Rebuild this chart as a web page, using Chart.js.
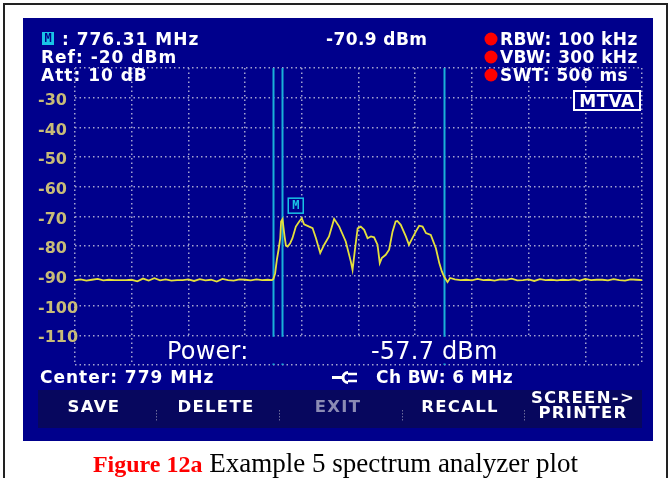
<!DOCTYPE html>
<html>
<head>
<meta charset="utf-8">
<script src="https://cdn.jsdelivr.net/npm/chart.js@4.4.1/dist/chart.umd.min.js"></script>
<style>
  html, body { margin: 0; padding: 0; background: #ffffff; }
  #wrap { position: relative; width: 671px; height: 478px; overflow: hidden; }
  canvas { position: absolute; left: 0; top: 0; }
  .t { position: absolute; white-space: nowrap; color: #ffffff; font-family: "DejaVu Sans", sans-serif;
       font-weight: bold; font-size: 17px; line-height: 17px; letter-spacing: 0.4px; }
  .wide { letter-spacing: 1px; }
  .big { font-weight: normal; font-size: 24px; line-height: 24px; letter-spacing: 0.2px; }
  .btn { text-align: center; font-size: 16.5px; line-height: 16px; letter-spacing: 1.3px; }
  .mk { position: absolute; background: #19c3e6; color: #00008c; font-family: "DejaVu Sans Mono", monospace;
        font-weight: bold; font-size: 12px; line-height: 13px; text-align: center; }
  #caption { position: absolute; left: 0; width: 671px; top: 449px; text-align: center;
             font-family: "Liberation Serif", "Times New Roman", serif; font-size: 27px; line-height: 28px; color: #000; }
  #caption b { color: #ff0000; font-size: 24px; }
</style>
</head>
<body>
<div id="wrap">
  <canvas id="c" width="671" height="478"></canvas>

  <div class="mk" style="left:42px;top:32px;width:12px;height:13px;">M</div>
  <div class="t wide" style="left:62px;top:31px;">: 776.31 MHz</div>
  <div class="t" style="left:326px;top:31px;">-70.9 dBm</div>
  <div class="t" style="left:500px;top:31px;">RBW: 100 kHz</div>
  <div class="t wide" style="left:41px;top:49px;">Ref: -20 dBm</div>
  <div class="t" style="left:500px;top:49px;">VBW: 300 kHz</div>
  <div class="t wide" style="left:41px;top:67px;">Att: 10 dB</div>
  <div class="t" style="left:500px;top:67px;">SWT: 500 ms</div>
  <div class="t" style="left:573px;top:91px;width:68px;text-align:center;line-height:20px;">MTVA</div>

  <div class="t big" style="left:167px;top:339px;">Power:</div>
  <div class="t big" style="left:371px;top:339px;">-57.7 dBm</div>

  <div class="t wide" style="left:40px;top:369px;">Center: 779 MHz</div>
  <div class="t" style="left:376px;top:369px;">Ch BW: 6 MHz</div>

  <div class="t btn" style="left:49px;top:399px;width:90px;">SAVE</div>
  <div class="t btn" style="left:166px;top:399px;width:100px;">DELETE</div>
  <div class="t btn" style="left:293px;top:399px;width:90px;color:#8c8cb4;">EXIT</div>
  <div class="t btn" style="left:410px;top:399px;width:100px;">RECALL</div>
  <div class="t btn" style="left:523px;top:390px;width:120px;line-height:15px;">SCREEN-&gt;<br>PRINTER</div>

  <div id="caption"><b>Figure 12a</b> Example 5 spectrum analyzer plot</div>
</div>

<script>
// Sweep: frequency (MHz) and trace level (dBm)
const traceFreq = [
  769.0, 769.2, 769.4, 769.6, 769.8, 770.0, 770.2, 770.4, 770.6, 770.8,
  771.0, 771.2, 771.4, 771.6, 771.8, 772.0, 772.2, 772.4, 772.6, 772.8,
  773.0, 773.2, 773.4, 773.6, 773.8, 774.0, 774.2, 774.4, 774.6, 774.8,
  775.0, 775.2, 775.4, 775.6, 775.8, 775.95,
  776.00, 776.06, 776.12, 776.18, 776.24, 776.27, 776.32, 776.39, 776.44, 776.50,
  776.59, 776.67, 776.79, 776.91, 777.00, 777.08, 777.26, 777.38, 777.50, 777.65,
  777.79, 777.96, 778.14, 778.32, 778.55, 778.73, 778.79, 778.88, 778.97, 779.08,
  779.20, 779.32, 779.44, 779.55, 779.67, 779.75, 779.82, 779.96, 780.08, 780.20,
  780.31, 780.37, 780.49, 780.67, 780.78, 780.90, 781.02, 781.14, 781.26, 781.38,
  781.55, 781.73, 781.85, 781.94, 782.02, 782.14, 782.23,
  782.4, 782.6, 782.8, 783.0, 783.2, 783.4, 783.6, 783.8, 784.0, 784.2,
  784.4, 784.6, 784.8, 785.0, 785.2, 785.4, 785.6, 785.8, 786.0, 786.2,
  786.4, 786.6, 786.8, 787.0, 787.2, 787.4, 787.6, 787.8, 788.0, 788.2,
  788.4, 788.6, 788.8, 789.0
];
const traceLevel = [
  -91.4, -91.2, -91.6, -91.3, -91.0, -91.5, -91.3, -91.4, -91.4, -91.4,
  -91.3, -91.8, -90.9, -91.6, -90.8, -91.5, -91.2, -91.6, -91.4, -91.4,
  -91.2, -91.7, -91.1, -91.5, -91.3, -91.9, -91.0, -91.4, -91.6, -91.2,
  -91.3, -91.5, -91.2, -91.4, -91.3, -91.4,
  -91.0, -89.1, -84.6, -81.2, -77.3, -71.7, -70.9, -76.5, -79.8, -80.1,
  -79.0, -77.3, -73.4, -71.7, -70.6, -72.6, -73.4, -73.9, -77.3, -82.3,
  -79.5, -76.7, -70.8, -73.4, -78.4, -85.2, -88.0, -80.7, -74.0, -73.4,
  -74.5, -77.3, -76.7, -77.0, -79.5, -85.7, -84.0, -82.9, -81.2, -75.1,
  -71.7, -71.5, -72.8, -76.7, -79.5, -77.3, -75.1, -73.1, -73.4, -75.6,
  -76.2, -80.7, -85.7, -88.5, -90.2, -92.1, -90.7,
  -91.2, -91.4, -91.3, -91.5, -91.0, -91.4, -91.3, -91.6, -91.2, -91.3,
  -90.9, -91.5, -91.4, -91.2, -91.7, -91.1, -91.4, -91.3, -91.5, -91.3,
  -91.4, -91.2, -91.6, -91.0, -91.4, -91.3, -91.3, -91.5, -91.1, -91.4,
  -91.6, -91.2, -91.3, -91.4
];

// Display range: center 779 MHz, span 20 MHz; ref level -20 dBm, 10 dB/div
const freqRange = [769, 789];
const levelRange = [-120, -20];
const levelTickLabels = ['-30', '-40', '-50', '-60', '-70', '-80', '-90', '-100', '-110'];

// Channel-power bounds (6 MHz) and marker
const channelLines = [776, 782];
const markerFreq = 776.31;
const markerLevel = -70.9;

const BLUE = '#00008c';

const screenPlugin = {
  id: 'screen',
  beforeDraw(chart) {
    // let the wide level labels run onto the grid edge
    chart.scales.y._computeLabelArea = () => undefined;
    const ctx = chart.ctx;
    ctx.save();
    ctx.fillStyle = '#ffffff';
    ctx.fillRect(0, 0, 671, 478);
    // outer frame
    ctx.strokeStyle = '#222222';
    ctx.lineWidth = 2;
    ctx.strokeRect(4, 4, 663, 480);
    // instrument screen
    ctx.fillStyle = BLUE;
    ctx.fillRect(23, 18, 630, 423);
    // soft-key bar
    ctx.fillStyle = '#07075e';
    ctx.fillRect(38, 390, 604, 38);
    // soft-key separators
    ctx.fillStyle = '#6a6a9a';
    [156, 279, 402, 524].forEach(x => {
      for (let y = 410; y < 422; y += 3) ctx.fillRect(x, y, 1, 1.5);
    });
    ctx.restore();
  },
  beforeDatasetsDraw(chart) {
    const { ctx, scales: { x, y } } = chart;
    ctx.save();
    ctx.strokeStyle = '#1ab0d8';
    ctx.lineWidth = 2;
    [channelLines[0], markerFreq, channelLines[1]].forEach(f => {
      const px = Math.round(x.getPixelForValue(f)) + 0.5;
      ctx.beginPath();
      ctx.moveTo(px, y.getPixelForValue(levelRange[1]));
      ctx.lineTo(px, y.getPixelForValue(levelRange[0]));
      ctx.stroke();
    });
    ctx.restore();
  },
  afterDatasetsDraw(chart) {
    const { ctx, scales: { x, y } } = chart;
    ctx.save();
    // readout field under the grid
    const y1 = y.getPixelForValue(-110) + 1.5;
    const y2 = y.getPixelForValue(-120) - 1.5;
    ctx.fillStyle = BLUE;
    ctx.fillRect(140, y1, 420, y2 - y1);
    // trace mode box
    ctx.fillRect(573, 90, 68, 21);
    ctx.strokeStyle = '#ffffff';
    ctx.lineWidth = 2;
    ctx.strokeRect(574, 91, 66, 19);
    // marker flag
    const mx = x.getPixelForValue(markerFreq);
    const my = y.getPixelForValue(markerLevel);
    ctx.fillStyle = BLUE;
    ctx.fillRect(mx + 6, my - 21, 15, 15);
    ctx.strokeStyle = '#19c3e6';
    ctx.lineWidth = 1.5;
    ctx.strokeRect(mx + 6, my - 21, 15, 15);
    ctx.fillStyle = '#19c3e6';
    ctx.font = 'bold 12px "DejaVu Sans Mono"';
    ctx.textAlign = 'center';
    ctx.textBaseline = 'middle';
    ctx.fillText('M', mx + 13.5, my - 13);
    ctx.restore();
  },
  afterDraw(chart) {
    const ctx = chart.ctx;
    ctx.save();
    // setting indicators
    ctx.fillStyle = '#ff0000';
    [39, 57, 75].forEach(cy => {
      ctx.beginPath();
      ctx.arc(491, cy, 6.5, 0, Math.PI * 2);
      ctx.fill();
    });
    // channel-power symbol
    ctx.strokeStyle = '#ffffff';
    ctx.lineWidth = 3;
    ctx.beginPath();
    ctx.moveTo(332, 377.5); ctx.lineTo(343, 377.5);
    ctx.stroke();
    ctx.beginPath();
    ctx.arc(348, 377.5, 5, Math.PI * 0.5, Math.PI * 1.5);
    ctx.stroke();
    ctx.lineWidth = 2.5;
    ctx.beginPath();
    ctx.moveTo(348, 374); ctx.lineTo(357, 374);
    ctx.moveTo(348, 381); ctx.lineTo(357, 381);
    ctx.stroke();
    ctx.restore();
  }
};

const gridCommon = {
  color: '#a4a4d0',
  lineWidth: 1.5,
  drawTicks: false
};

new Chart(document.getElementById('c'), {
  type: 'line',
  data: {
    datasets: [{
      data: traceFreq.map((f, i) => ({ x: f, y: traceLevel[i] })),
      borderColor: '#e4e03c',
      borderWidth: 1.8,
      pointRadius: 0,
      tension: 0,
      fill: false
    }]
  },
  options: {
    responsive: false,
    animation: false,
    devicePixelRatio: 1,
    events: [],
    layout: { padding: { left: 38, top: 68, right: 29, bottom: 113 } },
    plugins: { legend: { display: false }, tooltip: { enabled: false } },
    scales: {
      x: {
        type: 'linear',
        min: freqRange[0],
        max: freqRange[1],
        ticks: { display: false, stepSize: 2 },
        grid: gridCommon,
        border: { display: false, dash: [1.5, 3] },
        afterFit(s) { s.height = 0; }
      },
      y: {
        min: levelRange[0],
        max: levelRange[1],
        ticks: {
          stepSize: 10,
          crossAlign: 'far',
          padding: 0,
          labelOffset: 3,
          color: '#c8bc78',
          font: { family: 'DejaVu Sans', weight: 'bold', size: 16 },
          callback: (v) => {
            const i = levelTickLabels.indexOf(String(v));
            return i >= 0 ? levelTickLabels[i] : '';
          }
        },
        grid: gridCommon,
        border: { display: false, dash: [1.5, 3] },
        afterFit(s) { s.width = 37; }
      }
    }
  },
  plugins: [screenPlugin]
});
</script>
</body>
</html>
